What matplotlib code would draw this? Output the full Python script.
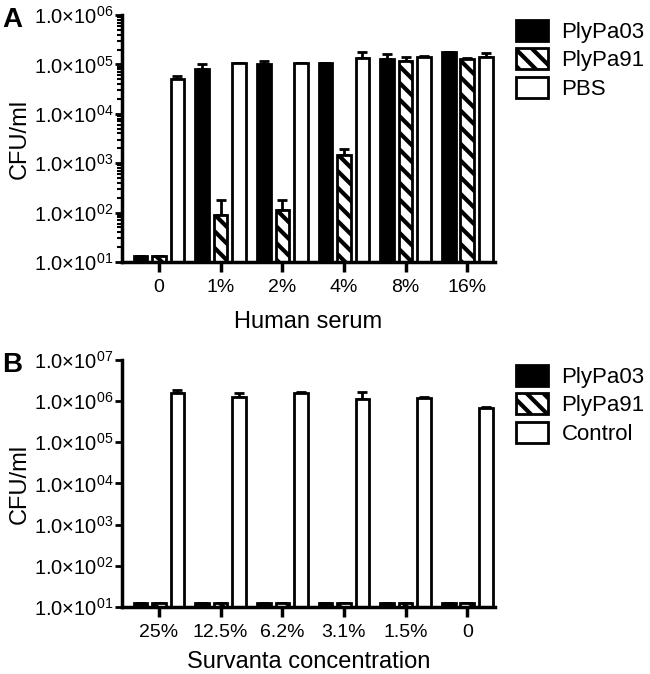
import matplotlib
matplotlib.use('Agg')
import matplotlib.pyplot as plt
import numpy as np

plt.rcParams['font.family'] = ['Liberation Sans', 'DejaVu Sans']
plt.rcParams['mathtext.fontset'] = 'custom'
plt.rcParams['mathtext.rm'] = 'Liberation Sans'
plt.rcParams['hatch.linewidth'] = 3

# panel A data (CFU/ml, upper error amount)
serum = ['0', '1%', '2%', '4%', '8%', '16%']
a_plypa03 = [13, 8.0e4, 1.0e5, 1.05e5, 1.3e5, 1.75e5]
a_plypa03_err = [0, 2.0e4, 1.5e4, 0, 3.5e4, 5e3]
a_plypa91 = [13, 90, 115, 1.5e3, 1.17e5, 1.26e5]
a_plypa91_err = [0, 90, 65, 400, 2.6e4, 1e4]
a_pbs = [5.0e4, 1.05e5, 1.05e5, 1.32e5, 1.43e5, 1.43e5]
a_pbs_err = [7e3, 3e3, 3e3, 4.6e4, 3e3, 2.9e4]

# panel B data
conc = ['25%', '12.5%', '6.2%', '3.1%', '1.5%', '0']
b_plypa03 = [12.5, 12.5, 12.5, 12.5, 12.5, 12.5]
b_plypa03_err = [0, 0, 0, 0, 0, 0]
b_plypa91 = [12.5, 12.5, 12.5, 12.5, 12.5, 12.5]
b_plypa91_err = [0, 0, 0, 0, 0, 0]
b_control = [1.59e6, 1.27e6, 1.59e6, 1.16e6, 1.2e6, 6.65e5]
b_control_err = [3.3e5, 2.7e5, 5e4, 4.7e5, 5e4, 4e4]

fig = plt.figure(figsize=(6.5, 6.74), dpi=100)
axA = fig.add_axes([122/650, 1-262/674, 373/650, 247/674])
axB = fig.add_axes([122/650, 1-607/674, 373/650, 247/674])

def sci(e):
    return '1.0×10$^{%02d}$' % e

def draw(ax, cats, series, top_exp, xlabel, names, label_y):
    x = np.arange(len(cats))
    ymin = 10
    offsets = [-0.3, 0, 0.3]
    styles = [dict(color='black', edgecolor='black'),
              dict(color='white', edgecolor='black', hatch='\\\\'),
              dict(color='white', edgecolor='black')]
    for (vals, errs), off, st, nm in zip(series, offsets, styles, names):
        vals = np.array(vals, dtype=float)
        ax.bar(x + off, vals - ymin, 0.22, bottom=ymin, linewidth=2,
               label=nm, zorder=2, **st)
        ax.errorbar(x + off, vals, yerr=[np.zeros(len(vals)), errs], fmt='none',
                    ecolor='black', elinewidth=2, capsize=3.5, capthick=2, zorder=1)
    ax.set_yscale('log')
    ax.set_ylim(ymin, 10**top_exp)
    ax.set_xlim(-0.6, 5.45)
    exps = list(range(1, top_exp + 1))
    ax.set_yticks([10**e for e in exps])
    ax.set_yticklabels([sci(e) for e in exps])
    ax.set_xticks(x)
    ax.set_xticklabels(cats)
    for s in ['top', 'right']:
        ax.spines[s].set_visible(False)
    for s in ['left', 'bottom']:
        ax.spines[s].set_linewidth(2.5)
    ax.tick_params(axis='y', which='major', length=5, width=2, pad=1, labelsize=14.5)
    ax.tick_params(axis='y', which='minor', length=3.5, width=1.5)
    ax.tick_params(axis='x', length=7, width=2.5, pad=5, labelsize=14)
    ax.set_ylabel('CFU/ml', fontsize=17)
    ax.yaxis.set_label_coords(-0.245, 0.5)
    ax.set_xlabel(xlabel, fontsize=17)
    ax.xaxis.set_label_coords(0.5, label_y)

draw(axA, serum, [(a_plypa03, a_plypa03_err), (a_plypa91, a_plypa91_err), (a_pbs, a_pbs_err)],
     6, 'Human serum', ['PlyPa03', 'PlyPa91', 'PBS'], -0.2)
draw(axB, conc, [(b_plypa03, b_plypa03_err), (b_plypa91, b_plypa91_err), (b_control, b_control_err)],
     7, 'Survanta concentration', ['PlyPa03', 'PlyPa91', 'Control'], -0.18)

for ax, ytop in [(axA, 1-20/674), (axB, 1-365/674)]:
    leg = ax.legend(loc='upper left', bbox_to_anchor=(516/650, ytop),
                    bbox_transform=fig.transFigure, frameon=False, fontsize=16,
                    handlelength=1.45, handleheight=1.05, labelspacing=0.25,
                    handletextpad=0.6, borderpad=0, borderaxespad=0)
    for p in leg.get_patches():
        p.set_linewidth(2)

fig.text(2/650, 1-7/674, 'A', fontsize=20, fontweight='bold', va='top')
fig.text(2/650, 1-352/674, 'B', fontsize=20, fontweight='bold', va='top')

fig.savefig('out.png', dpi=100)
